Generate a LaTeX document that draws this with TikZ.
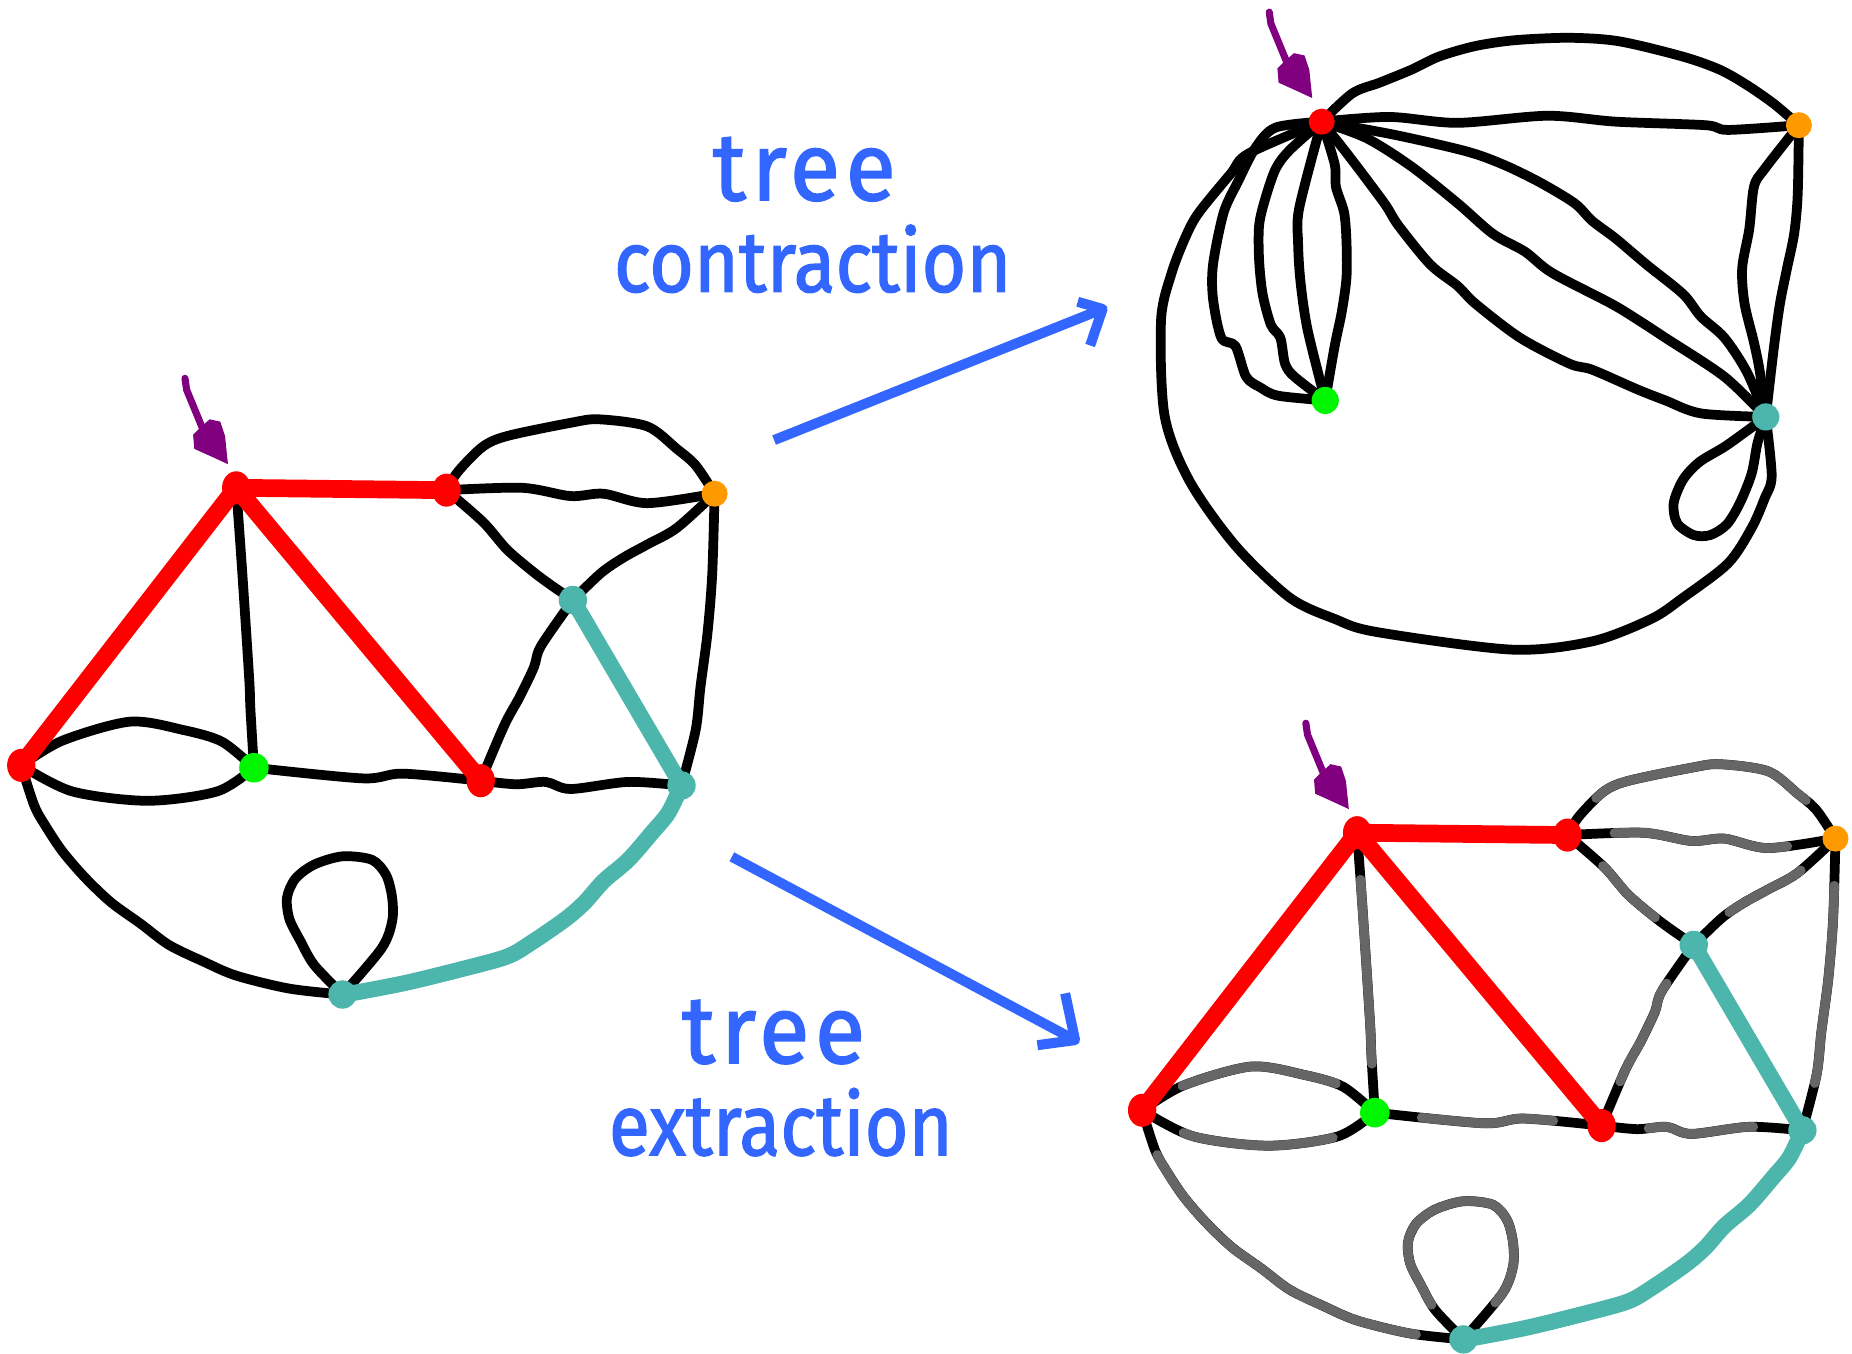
\documentclass[tikz,border=0pt]{standalone}
\usepackage{fontspec}
\usepackage{graphicx}
\newfontfamily\handfont{Fira Sans}[FakeBold=1.6]
\usetikzlibrary{decorations.markings,shapes.geometric}
\pgfdeclarelayer{paper}
\pgfdeclarelayer{bg}
\pgfsetlayers{paper,bg,main}
\definecolor{tealc}{RGB}{77,182,172}
\definecolor{orangec}{RGB}{255,153,0}
\definecolor{greenc}{RGB}{0,245,0}
\definecolor{purplec}{RGB}{128,0,128}
\definecolor{bluec}{RGB}{51,102,255}
\definecolor{grayc}{RGB}{102,102,102}
\tikzset{
  eblack/.style={draw=black, line width=0.165cm, line cap=round, line join=round},
  egray/.style={postaction={decorate}, decoration={markings,
      mark=between positions 0.8cm and -0.8cm step 0.04cm with {\fill[grayc] (0,0) circle (0.0835cm);}}},
  redtree/.style={draw=red, line width=0.3cm, line cap=round, line join=round},
  tealtree/.style={draw=tealc, line width=0.27cm, line cap=round, line join=round},
  vdot/.style={ellipse, inner sep=0pt, minimum width=#1, minimum height=#1},
  vdot/.default=0.48cm,
  rdot/.style={ellipse, inner sep=0pt, minimum width=0.48cm, minimum height=0.56cm, fill=red},
  bluearrow/.style={draw=bluec, line width=0.17cm, line join=round},
  wordlabel/.style={text=bluec, font=\handfont\fontsize{37}{37}\selectfont, anchor=base, inner sep=0pt},
}
\newcommand\rootarrow{%
  \draw[purplec, line width=0.12cm, line cap=round] (156.6,320.3) -- (158,330) -- (172,364);
  \fill[purplec] (163.5,368) -- (169,362.5) -- (177.5,355) -- (186.5,357) -- (190.5,369)
     -- (193,393) -- (180,387) -- (164.5,380) -- cycle;}
\newcommand\graphnodes{%
  \node[rdot] (r1) at (200,413) {};
  \node[rdot] (r2) at (378,415) {};
  \node[vdot=0.44cm, fill=orangec] (o) at (605,418) {};
  \node[vdot, fill=tealc] (t1) at (485,508) {};
  \node[vdot=0.5cm, fill=greenc] (g) at (215,650) {};
  \node[rdot] (r3) at (18,648) {};
  \node[rdot] (r4) at (407,661) {};
  \node[vdot, fill=tealc] (t2) at (577,665) {};
  \node[vdot, fill=tealc] (t3) at (290,842) {};}
\newcommand\graphedges[1]{%
  \path[#1] plot[smooth] coordinates {(r1.center) (205,483) (211,575) (212,600) (g.center)};
  \path[#1] plot[smooth] coordinates {(r3.center) (53,627) (110,611) (155,618) (188,628) (g.center)};
  \path[#1] plot[smooth] coordinates {(r3.center) (61,670) (125,678) (184,670) (g.center)};
  \path[#1] plot[smooth] coordinates {(g.center) (307,659) (341,655) (r4.center)};
  \path[#1] plot[smooth] coordinates {(r4.center) (437,664) (462,662) (483,668) (532,662) (t2.center)};
  \path[#1] plot[smooth] coordinates {(r2.center) (442,413) (483,420) (511,418) (548,426) (o.center)};
  \path[#1] plot[smooth] coordinates {(r2.center) (388,399) (409,378) (430,369) (483,358) (507,355) (548,361) (573,380) (589,394) (o.center)};
  \path[#1] plot[smooth] coordinates {(r2.center) (409,442) (429,465) (450,483) (466,495) (t1.center)};
  \path[#1] plot[smooth] coordinates {(o.center) (573,447) (548,461) (528,472) (509,485) (t1.center)};
  \path[#1] plot[smooth] coordinates {(o.center) (603,486) (599,536) (593,582) (589,618) (t2.center)};
  \path[#1] plot[smooth] coordinates {(t1.center) (458,547) (452,565) (440,590) (427,614) (r4.center)};
  \path[#1] plot[smooth] coordinates {(r3.center) (29,682) (39,700) (53,721) (72,743) (94,764) (119,782) (143,800) (172,814) (200,826) (245,837) (t3.center)};
  \path[#1] plot[smooth] coordinates {(t3.center) (266,817) (254,796) (245,778) (243,760) (250,744) (266,732) (290,725) (315,728) (327,741) (332,760) (332,780) (323,803) (t3.center)};}
\newcommand\graphtree{%
  \path[redtree] (r1.center) -- (r2.center);
  \path[redtree] (r1.center) -- (r3.center);
  \path[redtree] (r1.center) -- (r4.center);
  \path[tealtree] (t1.center) -- (t2.center);
  \path[tealtree] plot[smooth] coordinates {(t2.center) (566,688) (552,705) (532,728) (511,746) (495,764) (479,778) (450,798) (429,810) (389,821) (344,832) (303,840) (t3.center)};}
\begin{document}
\begin{tikzpicture}[x=0.02cm, y=-0.02cm]
\useasboundingbox (0,0) rectangle (1568,1146);
\begin{pgfonlayer}{paper}
  \fill[white] (0,0) rectangle (1568,1146);
\end{pgfonlayer}

% ---------- left graph ----------
\begin{scope}
  \graphnodes
  \begin{pgfonlayer}{bg}
    \graphedges{eblack}
    \graphtree
  \end{pgfonlayer}
  \rootarrow
\end{scope}

% ---------- bottom right graph (tree extraction) ----------
\begin{scope}[shift={(949,292)}, name prefix=b-]
  \graphnodes
  \begin{pgfonlayer}{bg}
    \graphedges{eblack}
    \graphedges{egray}
    \graphtree
  \end{pgfonlayer}
  \rootarrow
\end{scope}

% ---------- top right graph (tree contraction) ----------
\node[vdot=0.44cm, fill=red] (rc) at (1119,103) {};
\node[vdot=0.44cm, fill=orangec] (oc) at (1523,106) {};
\node[vdot=0.46cm, fill=greenc] (gc) at (1122,339) {};
\node[vdot=0.46cm, fill=tealc] (tc) at (1495,353) {};
\begin{pgfonlayer}{bg}
  \path[eblack] plot[smooth] coordinates {(rc.center) (1145,79) (1168,70) (1195,59) (1218,48) (1249,39) (1283,34) (1329,32) (1371,35) (1425,48) (1456,59) (1479,72) (1502,88) (oc.center)};
  \path[eblack] plot[smooth] coordinates {(rc.center) (1176,99) (1234,104) (1310,98) (1368,103) (1444,106) (1463,110) (oc.center)};
  \path[eblack] plot[smooth] coordinates {(oc.center) (1494,143) (1485,158) (1481,194) (1475,227) (1477,257) (1485,290) (1490,315) (tc.center)};
  \path[eblack] plot[smooth] coordinates {(oc.center) (1522,165) (1519,198) (1513,227) (1507,257) (1502,293) (tc.center)};
  \path[eblack] plot[smooth] coordinates {(rc.center) (1180,114) (1241,128) (1272,139) (1303,154) (1333,172) (1348,187) (1368,202) (1394,224) (1425,249) (1440,268) (1460,286) (1479,315) (tc.center)};
  \path[eblack] plot[smooth] coordinates {(rc.center) (1157,117) (1195,141) (1234,172) (1264,198) (1291,213) (1314,231) (1364,257) (1387,271) (1410,286) (1460,319) (tc.center)};
  \path[eblack] plot[smooth] coordinates {(rc.center) (1142,132) (1172,172) (1184,191) (1211,224) (1234,242) (1249,257) (1287,286) (1329,308) (1348,313) (1387,330) (1410,339) (1440,350) (tc.center)};
  \path[eblack] plot[smooth] coordinates {(rc.center) (1100,176) (1099,205) (1101,238) (1107,279) (gc.center)};
  \path[eblack] plot[smooth] coordinates {(rc.center) (1130,139) (1131,158) (1138,180) (1140,205) (1140,235) (1136,264) (1130,293) (gc.center)};
  \path[eblack] plot[smooth] coordinates {(rc.center) (1092,127) (1080,143) (1071,169) (1066,191) (1066,220) (1069,249) (1076,275) (1084,286) (1088,308) (1096,319) (gc.center)};
  \path[eblack] plot[smooth] coordinates {(rc.center) (1080,108) (1063,125) (1048,154) (1036,180) (1027,224) (1027,253) (1034,286) (1046,293) (1055,319) (1067,328) (1082,335) (gc.center)};
  \path[eblack] plot[smooth] coordinates {(rc.center) (1057,130) (1042,147) (1015,180) (1004,200) (992,231) (983,271) (986,352) (1007,407) (1046,462) (1092,506) (1130,524) (1165,535) (1280,550) (1348,543) (1398,524) (1425,506) (1463,477) (1483,447) (1494,422) (1500,403) (tc.center)};
  \path[eblack] plot[smooth] coordinates {(tc.center) (1462,377) (1439,391) (1425,406) (1417,426) (1420,443) (1434,453) (1448,453) (1462,444) (1473,426) (1483,401) (1488,375) (tc.center)};
\end{pgfonlayer}
\begin{scope}[shift={(918,-310)}]
  \rootarrow
\end{scope}

% ---------- blue arrows ----------
\coordinate (a1s) at (655.4,372.6);
\coordinate (a1t) at (933.5,261.6);
\coordinate (a1b) at (912.4,255.5);
\coordinate (a1c) at (923,292.5);
\path[bluearrow] (a1s) -- (a1t);
\path[bluearrow] (a1b) -- (a1t) -- (a1c);
\coordinate (a2s) at (619.6,725.4);
\coordinate (a2t) at (910.2,880.6);
\coordinate (a2b) at (901.8,841);
\coordinate (a2c) at (878.3,884.9);
\path[bluearrow] (a2s) -- (a2t);
\path[bluearrow] (a2b) -- (a2t) -- (a2c);

% ---------- labels ----------
\node[wordlabel] (w1) at (681,169.5) {\addfontfeature{LetterSpace=6}\scalebox{1.2}[1.25]{tree}};
\node[wordlabel] (w2) at (688,247) {\scalebox{1.0}[1.12]{contraction}};
\node[wordlabel] (w3) at (655,900) {\addfontfeature{LetterSpace=6}\scalebox{1.2}[1.25]{tree}};
\node[wordlabel] (w4) at (661,978) {\scalebox{0.98}[1.12]{extraction}};
\end{tikzpicture}
\end{document}
